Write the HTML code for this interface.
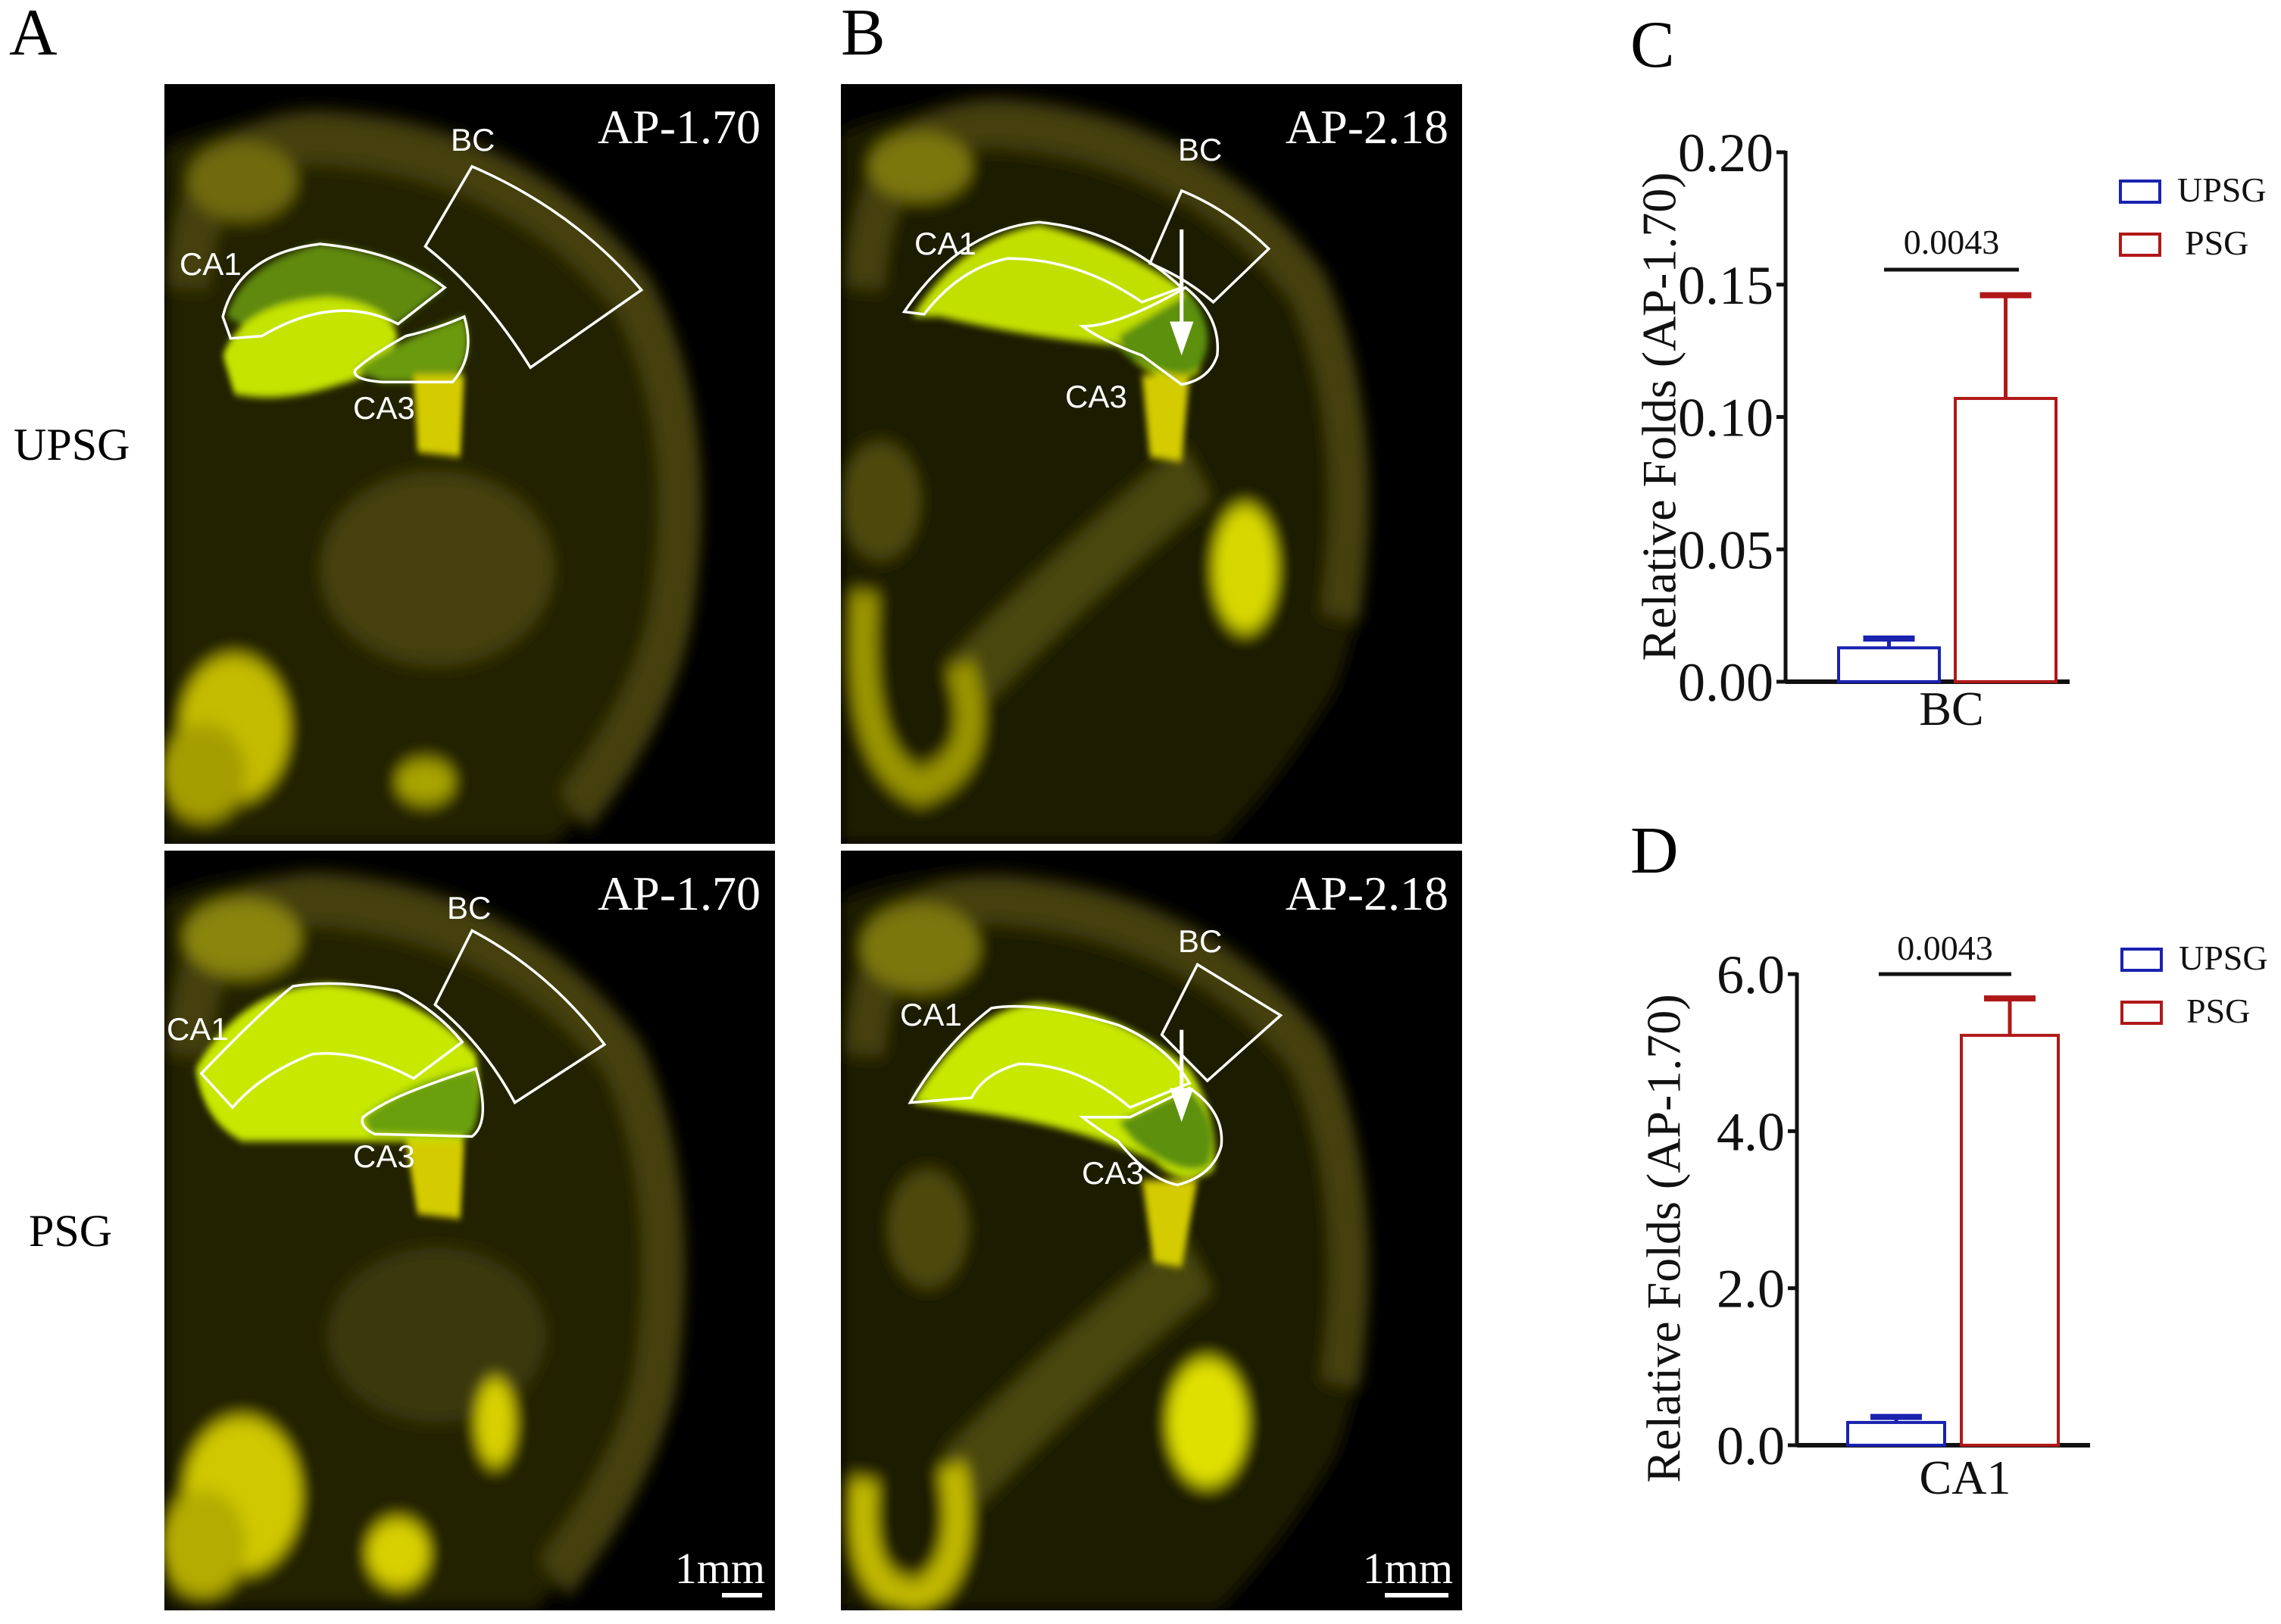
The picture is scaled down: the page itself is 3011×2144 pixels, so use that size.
<!DOCTYPE html>
<html><head><meta charset="utf-8"><style>
html,body{margin:0;padding:0;background:#fff;}
svg{display:block;}
text{font-family:"Liberation Serif",serif;}
text.sans{font-family:"Liberation Sans",sans-serif;}
</style></head>
<body>
<svg id="fig" width="3011" height="2144" viewBox="0 0 3011 2144" xmlns="http://www.w3.org/2000/svg">
<defs>
<filter id="blur" x="-10%" y="-10%" width="120%" height="120%"><feGaussianBlur stdDeviation="18"/></filter>
<filter id="blur2" x="-10%" y="-10%" width="120%" height="120%"><feGaussianBlur stdDeviation="8"/></filter>
</defs>
<rect width="3011" height="2144" fill="#fff"/>
<!-- panel letters -->
<text x="12" y="72" font-size="88">A</text>
<text x="1110" y="72" font-size="88">B</text>
<text x="2152" y="88" font-size="88">C</text>
<text x="2152" y="1152" font-size="88">D</text>
<text x="18" y="607" font-size="60">UPSG</text>
<text x="38" y="1645" font-size="60">PSG</text>

<!-- Panel A top -->
<g>
<svg x="217" y="111" width="806" height="1003" viewBox="0 0 1568 1568" preserveAspectRatio="none">
<rect width="1568" height="1568" fill="#000"/>
<g filter="url(#blur)">
<path d="M0,130 Q300,20 700,140 Q1150,300 1330,650 Q1420,950 1280,1250 Q1150,1450 1000,1568 L0,1568 Z" fill="#222005"/>
<path d="M60,420 Q80,110 400,110 Q900,130 1200,430 Q1380,700 1300,1100 Q1250,1300 1050,1500" fill="none" stroke="#44410a" stroke-width="110"/>
<ellipse cx="700" cy="1000" rx="300" ry="200" fill="#45410a"/>
<ellipse cx="180" cy="1330" rx="140" ry="150" fill="#c4bc00"/>
<ellipse cx="100" cy="1420" rx="110" ry="100" fill="#a59e00"/>
<ellipse cx="670" cy="1440" rx="75" ry="45" fill="#a8a400"/>
<ellipse cx="200" cy="200" rx="140" ry="80" fill="#6f6a0c"/>
</g>
<g filter="url(#blur2)">
<path d="M160,480 Q200,370 400,330 Q600,350 720,420 L600,495 Q440,450 250,520 Z" fill="#5f8a10"/>
<path d="M150,560 Q200,450 420,440 Q570,450 600,520 Q560,600 450,620 Q300,660 180,640 Z" fill="#c5e400"/>
<path d="M490,590 Q620,520 770,480 Q800,560 740,615 L560,615 Z" fill="#6a9a10"/>
<path d="M640,600 L770,600 L760,770 L650,760 Z" fill="#d4cc00"/>
</g>
<g fill="none" stroke="#fff">
<path vector-effect="non-scaling-stroke" stroke-width="3.5" d="M150,480 Q190,350 400,330 Q600,345 720,420 L600,495 Q440,430 250,520 L170,525 Z"/>
<path vector-effect="non-scaling-stroke" stroke-width="3.5" d="M490,590 Q530,560 620,520 Q700,505 770,480 Q800,560 740,615 L560,615 Q480,610 490,590 Z"/>
<path vector-effect="non-scaling-stroke" stroke-width="3.5" d="M670,335 L790,170 Q1050,260 1225,425 L940,585 Q820,430 670,335 Z"/>
</g>
</svg></g>

<!-- Panel A bottom -->
<g>
<svg x="217" y="1123" width="806" height="1003" viewBox="0 0 1568 1568" preserveAspectRatio="none">
<rect width="1568" height="1568" fill="#000"/>
<g filter="url(#blur)">
<path d="M0,100 Q300,0 700,120 Q1150,300 1300,650 Q1380,950 1250,1250 Q1100,1450 950,1568 L0,1568 Z" fill="#222005"/>
<path d="M60,420 Q80,100 400,100 Q900,130 1180,430 Q1330,700 1260,1100 Q1200,1300 1000,1500" fill="none" stroke="#44410a" stroke-width="110"/>
<ellipse cx="700" cy="1000" rx="280" ry="180" fill="#3a3707"/>
<ellipse cx="200" cy="1330" rx="150" ry="160" fill="#d0c800"/>
<ellipse cx="100" cy="1430" rx="110" ry="110" fill="#b4ac00"/>
<ellipse cx="600" cy="1450" rx="80" ry="70" fill="#d8d000"/>
<ellipse cx="850" cy="1180" rx="50" ry="90" fill="#d8d000"/>
<ellipse cx="200" cy="180" rx="150" ry="80" fill="#8a850c"/>
</g>
<g filter="url(#blur2)">
<path d="M80,450 Q200,280 420,275 Q650,290 800,420 Q830,560 760,600 L200,600 Q100,560 80,450 Z" fill="#c8e800"/>
<path d="M510,550 Q640,470 800,450 Q820,560 780,590 L530,585 Z" fill="#6aa010"/>
<path d="M620,600 L770,600 L760,760 L650,750 Z" fill="#d4cc00"/>
</g>
<g fill="none" stroke="#fff">
<path vector-effect="non-scaling-stroke" stroke-width="3.5" d="M95,460 Q250,330 330,280 Q450,265 600,290 Q700,330 765,395 L640,470 Q500,410 380,420 Q250,460 175,530 Z"/>
<path vector-effect="non-scaling-stroke" stroke-width="3.5" d="M510,550 Q560,520 640,495 Q720,470 800,450 Q840,560 790,590 L540,585 Q500,570 510,550 Z"/>
<path vector-effect="non-scaling-stroke" stroke-width="3.5" d="M695,318 L790,165 Q990,250 1130,400 L900,520 Q820,400 695,318 Z"/>
</g>
</svg></g>

<!-- Panel B top -->
<g>
<svg x="1110" y="111" width="820" height="1003" viewBox="0 0 1568 1568" preserveAspectRatio="none">
<rect width="1568" height="1568" fill="#000"/>
<g filter="url(#blur)">
<path d="M0,100 Q300,0 700,80 Q1150,250 1300,650 Q1380,950 1250,1250 Q1100,1450 950,1568 L0,1568 Z" fill="#1f1d04"/>
<path d="M60,420 Q80,80 400,80 Q900,110 1180,420 Q1330,700 1260,1100" fill="none" stroke="#44410a" stroke-width="100"/>
<path d="M300,1250 Q600,1000 900,800" fill="none" stroke="#4a470a" stroke-width="130"/>
<ellipse cx="1020" cy="1000" rx="80" ry="130" fill="#d8d800"/>
<path d="M60,1050 Q30,1400 200,1450 Q380,1400 300,1200" fill="none" stroke="#9a9400" stroke-width="70"/>
<ellipse cx="200" cy="170" rx="130" ry="70" fill="#7c770c"/>
<ellipse cx="100" cy="860" rx="100" ry="120" fill="#4e4a0a"/>
</g>
<g filter="url(#blur2)">
<path d="M180,480 Q300,320 500,290 Q700,330 860,420 Q950,500 900,600 Q800,630 700,540 Q450,520 250,480 Z" fill="#c2e000"/>
<path d="M700,520 L880,430 Q960,520 900,590 Q850,620 720,560 Z" fill="#5c9010"/>
<path d="M760,600 L880,600 L860,780 L780,770 Z" fill="#d4cc00"/>
</g>
<g fill="none" stroke="#fff">
<path vector-effect="non-scaling-stroke" stroke-width="3.5" d="M160,470 Q300,300 500,285 Q700,300 860,420 L760,450 Q600,360 420,360 Q300,380 210,475 Z"/>
<path vector-effect="non-scaling-stroke" stroke-width="3.5" d="M610,500 Q700,500 870,420 Q960,480 950,560 Q930,610 860,620 L760,560 Q660,530 610,500 Z"/>
<path vector-effect="non-scaling-stroke" stroke-width="3.5" d="M780,370 L860,220 Q980,260 1080,340 L940,450 Q870,400 780,370 Z"/>
<path vector-effect="non-scaling-stroke" stroke-width="5" d="M860,300 L860,500"/>
</g>
<path d="M830,490 L890,490 L860,560 Z" fill="#fff"/>
</svg></g>

<!-- Panel B bottom -->
<g>
<svg x="1110" y="1123" width="820" height="1003" viewBox="0 0 1568 1568" preserveAspectRatio="none">
<rect width="1568" height="1568" fill="#000"/>
<g filter="url(#blur)">
<path d="M0,100 Q300,0 700,100 Q1150,250 1300,650 Q1380,950 1250,1250 Q1100,1450 950,1568 L0,1568 Z" fill="#1f1d04"/>
<path d="M60,420 Q80,100 400,100 Q900,130 1180,420 Q1330,700 1260,1100" fill="none" stroke="#44410a" stroke-width="100"/>
<path d="M300,1300 Q600,1050 900,850" fill="none" stroke="#4a470a" stroke-width="140"/>
<ellipse cx="925" cy="1180" rx="100" ry="130" fill="#e0e000"/>
<path d="M60,1300 Q30,1540 200,1540 Q330,1480 280,1270" fill="none" stroke="#c0b800" stroke-width="70"/>
<ellipse cx="200" cy="200" rx="150" ry="90" fill="#7c770c"/>
<ellipse cx="220" cy="780" rx="100" ry="120" fill="#4e4a0a"/>
</g>
<g filter="url(#blur2)">
<path d="M180,520 Q330,320 500,315 Q700,330 880,450 Q960,560 940,660 Q860,700 790,640 Q600,570 340,540 Z" fill="#c8e800"/>
<path d="M700,560 L880,490 Q960,560 930,650 Q860,680 740,600 Z" fill="#5c9010"/>
<path d="M760,680 L900,680 L860,860 L790,850 Z" fill="#d4cc00"/>
</g>
<g fill="none" stroke="#fff">
<path vector-effect="non-scaling-stroke" stroke-width="3.5" d="M175,520 Q260,400 380,325 Q500,310 700,360 Q820,400 880,480 L730,530 Q600,440 450,440 Q360,460 330,510 Z"/>
<path vector-effect="non-scaling-stroke" stroke-width="3.5" d="M610,550 L730,550 L880,490 Q970,540 960,610 Q940,670 850,690 Q780,680 700,600 Q640,570 610,550 Z"/>
<path vector-effect="non-scaling-stroke" stroke-width="3.5" d="M810,380 L900,235 L1110,340 L925,475 Z"/>
<path vector-effect="non-scaling-stroke" stroke-width="5" d="M860,370 L860,500"/>
</g>
<path d="M830,490 L890,490 L860,560 Z" fill="#fff"/>
</svg></g>

<!-- image text overlays -->
<g fill="#fff">
<text x="1004" y="189" font-size="64" text-anchor="end">AP-1.70</text>
<text x="1004" y="1201" font-size="64" text-anchor="end">AP-1.70</text>
<text x="1912" y="189" font-size="64" text-anchor="end">AP-2.18</text>
<text x="1912" y="1201" font-size="64" text-anchor="end">AP-2.18</text>
<text class="sans" font-size="42" x="595" y="199">BC</text>
<text class="sans" font-size="42" x="237" y="363">CA1</text>
<text class="sans" font-size="42" x="466" y="553">CA3</text>
<text class="sans" font-size="42" x="590" y="1213">BC</text>
<text class="sans" font-size="42" x="220" y="1373">CA1</text>
<text class="sans" font-size="42" x="466" y="1541">CA3</text>
<text class="sans" font-size="42" x="1555" y="212">BC</text>
<text class="sans" font-size="42" x="1207" y="336">CA1</text>
<text class="sans" font-size="42" x="1406" y="538">CA3</text>
<text class="sans" font-size="42" x="1555" y="1257">BC</text>
<text class="sans" font-size="42" x="1188" y="1354">CA1</text>
<text class="sans" font-size="42" x="1428" y="1563">CA3</text>
<text x="1010" y="2090" font-size="58" text-anchor="end">1mm</text>
<rect x="953" y="2103" width="53" height="6"/>
<text x="1918" y="2090" font-size="58" text-anchor="end">1mm</text>
<rect x="1828" y="2103" width="84" height="6"/>
</g>

<g id="chartC"></g>
<g id="chartD"></g>
</svg>
<script>
const NS = "http://www.w3.org/2000/svg";
// Chart C data
const cCategory = "BC";
const cGroups = ["UPSG", "PSG"];
const cMeans = [0.0128, 0.107];
const cErrors = [0.0035, 0.039];
const cTicks = [0, 0.05, 0.10, 0.15, 0.20];
const cTickLabels = ["0.00", "0.05", "0.10", "0.15", "0.20"];
const cPValue = "0.0043";
// Chart D data
const dCategory = "CA1";
const dGroups = ["UPSG", "PSG"];
const dMeans = [0.29, 5.22];
const dErrors = [0.07, 0.47];
const dTicks = [0, 2, 4, 6];
const dTickLabels = ["0.0", "2.0", "4.0", "6.0"];
const dPValue = "0.0043";
const colors = ["#1a22b0", "#b01818"];

function mk(parent, tag, attrs, txt) {
  const e = document.createElementNS(NS, tag);
  for (const k in attrs) e.setAttribute(k, attrs[k]);
  if (txt !== undefined) e.textContent = txt;
  parent.appendChild(e);
  return e;
}

function drawChart(g, cfg) {
  const y = v => cfg.y0 - (v - cfg.vmin) / (cfg.vmax - cfg.vmin) * (cfg.y0 - cfg.y1);
  cfg.ticks.forEach((t, i) => {
    const tk = mk(g, "line", {x1: cfg.ax - 12, x2: cfg.ax, y1: y(t), y2: y(t), stroke: "#111", "stroke-width": 5});
    
    
    const lb = mk(g, "text", {x: cfg.ax - 16, y: y(t) + 25, "font-size": 72, "text-anchor": "end", fill: "#111"}, cfg.tickLabels[i]);
    
    
  });
  const ya = mk(g, "line", {x1: cfg.ax, x2: cfg.ax, y1: y(cfg.vmax) - 2, y2: cfg.y0 + 2, stroke: "#111", "stroke-width": 5});
  
  
  const xa = mk(g, "line", {x1: cfg.ax, x2: cfg.axEnd, y1: cfg.y0, y2: cfg.y0, stroke: "#111", "stroke-width": 6});
  
  
  cfg.means.forEach((m, i) => {
    const bx = cfg.barX[i];
    const b = mk(g, "rect", {x: bx, y: y(m), width: cfg.barW, height: cfg.y0 - y(m), fill: "#fff", stroke: colors[i], "stroke-width": 4});
    
    
    const cx = bx + cfg.barW / 2;
    const e1 = mk(g, "line", {x1: cx, x2: cx, y1: y(m), y2: y(m + cfg.errors[i]), stroke: colors[i], "stroke-width": 5});
    
    
    const e2 = mk(g, "line", {x1: cx - 34, x2: cx + 34, y1: y(m + cfg.errors[i]), y2: y(m + cfg.errors[i]), stroke: colors[i], "stroke-width": 8});
    
    
  });
  const sl = mk(g, "line", {x1: cfg.sigX1, x2: cfg.sigX2, y1: cfg.sigY, y2: cfg.sigY, stroke: "#111", "stroke-width": 5});
  
  
  const st = mk(g, "text", {x: (cfg.sigX1 + cfg.sigX2) / 2, y: cfg.sigTextY, "font-size": 46, "text-anchor": "middle", fill: "#111"}, cfg.p);
  
  
  const xl = mk(g, "text", {x: cfg.catX, y: cfg.catY, "font-size": 64, "text-anchor": "middle", fill: "#111"}, cfg.category);
  
  
  const yt = mk(g, "text", {x: 0, y: 0, "font-size": 64, "text-anchor": "middle", "dominant-baseline": "central", fill: "#111", transform: "translate(" + cfg.titleX + "," + cfg.titleY + ") rotate(-90)"}, "Relative Folds (AP-1.70)");
  
  
  cfg.groups.forEach((gname, i) => {
    const ly = cfg.legY + i * 70;
    const lr = mk(g, "rect", {x: cfg.legX, y: ly, width: 52, height: 28, fill: "#fff", stroke: colors[i], "stroke-width": 4});
    
    
    const lt = mk(g, "text", {x: cfg.legX + 75 + (i ? 10 : 0), y: ly + 27, "font-size": 46, fill: "#111"}, gname);
    
    
  });
}

drawChart(document.getElementById("chartC"), {
  y0: 900, y1: 201, vmin: 0, vmax: 0.20, ax: 2357, axEnd: 2732,
  ticks: cTicks, tickLabels: cTickLabels, means: cMeans, errors: cErrors, groups: cGroups,
  barX: [2427, 2581], barW: 133, sigX1: 2487, sigX2: 2665, sigY: 356, sigTextY: 335, p: cPValue,
  category: cCategory, catX: 2576, catY: 957, titleX: 2190, titleY: 550, legX: 2799, legY: 239
});
drawChart(document.getElementById("chartD"), {
  y0: 1908, y1: 1286, vmin: 0, vmax: 6, ax: 2372, axEnd: 2759,
  ticks: dTicks, tickLabels: dTickLabels, means: dMeans, errors: dErrors, groups: dGroups,
  barX: [2439, 2589], barW: 128, sigX1: 2480, sigX2: 2655, sigY: 1286, sigTextY: 1267, p: dPValue,
  category: dCategory, catX: 2594, catY: 1972, titleX: 2196, titleY: 1635, legX: 2801, legY: 1253
});
</script>
</body></html>
